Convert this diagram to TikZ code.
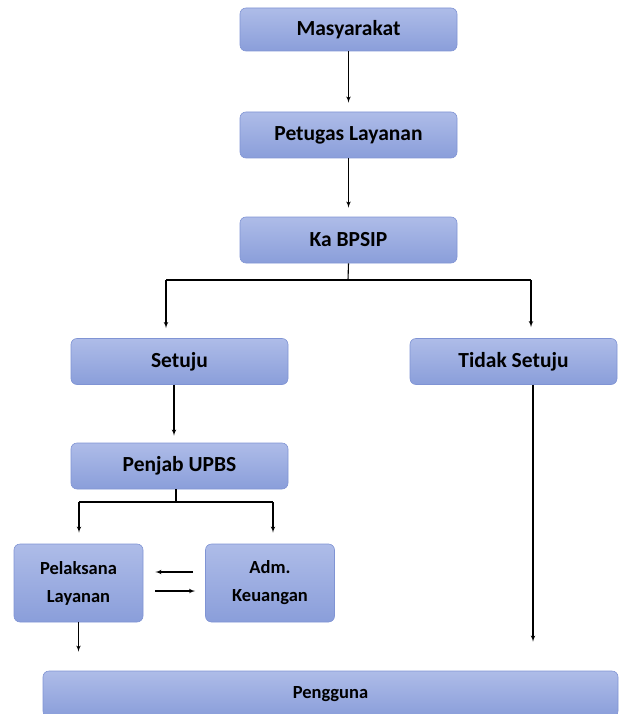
\documentclass[tikz,border=0pt]{standalone}
\usepackage{fontspec}
\setmainfont{Carlito}
\usetikzlibrary{shapes,arrows}
\definecolor{boxtop}{RGB}{174,188,232}
\definecolor{boxbot}{RGB}{138,158,218}
\definecolor{boxline}{RGB}{128,148,212}
\tikzstyle{block} = [rectangle, draw=boxline, line width=0.6pt, top color=boxtop, bottom color=boxbot,
    text centered, rounded corners=6pt, minimum width=217pt, minimum height=46pt, font=\fontsize{21.5}{24}\bfseries]
\tikzstyle{small} = [block, minimum width=129pt, minimum height=78pt, text width=120pt, align=center,
    font=\fontsize{18.5}{28}\bfseries]
\tikzstyle{line} = [draw, line width=1.1pt, -latex']

\begin{document}
\begin{tikzpicture}[node distance = 105pt, auto, x=1pt, y=1pt]
    \useasboundingbox (0,0) rectangle (619,-714);
    % Place nodes
    \node [block, minimum height=43pt] at (348.5,-29.5) (masy) {Masyarakat};
    \node [block, below of=masy, node distance=105.5pt] (petugas) {Petugas Layanan};
    \node [block, below of=petugas] (ka) {Ka BPSIP};
    \node [block] at (179.5,-361.5) (setuju) {Setuju};
    \node [block, right of=setuju, node distance=334pt, minimum width=207pt] (tidak) {Tidak Setuju};
    \node [block, below of=setuju, node distance=104.5pt] (penjab) {Penjab UPBS};
    \node [small] at (78.5,-583) (pelaksana) {Pelaksana\\Layanan};
    \node [small, right of=pelaksana, node distance=191.5pt] (adm) {Adm.\\Keuangan};
    \node [block, minimum width=575pt, minimum height=46pt, font=\fontsize{18.5}{21}\bfseries] at (330.5,-694) (pengguna) {Pengguna};
    % Branch points
    \coordinate (kasplit) at (348,-280);
    \coordinate (kaleft) at (166,-280);
    \coordinate (karight) at (531,-280);
    \coordinate (pjsplit) at (176,-502);
    \coordinate (pjleft) at (79,-502);
    \coordinate (pjright) at (273,-502);
    % Draw edges
    \path [line, shorten >=9pt] (masy) -- (petugas);
    \path [line, shorten >=9pt] (petugas) -- (ka);
    \draw [line width=1.1pt] (ka.south) -- (kasplit);
    \draw [line width=1.1pt] (kaleft) -- (karight);
    \path [line, shorten >=10pt] (kaleft) -- (kaleft |- setuju.north);
    \path [line, shorten >=11pt] (karight) -- (karight |- tidak.north);
    \path [line, shorten >=7pt] ([xshift=-5.5pt]setuju.south) -- ([xshift=-5.5pt]penjab.north);
    \draw [line width=1.1pt] (penjab.south -| pjsplit) -- (pjsplit);
    \draw [line width=1.1pt] (pjleft) -- (pjright);
    \path [line, shorten >=11pt] (pjleft) -- (pjleft |- pelaksana.north);
    \path [line, shorten >=11pt] (pjright) -- (pjright |- adm.north);
    \path [line, shorten <=12pt, shorten >=12pt] ([yshift=11pt]adm.west) -- ([yshift=11pt]pelaksana.east);
    \path [line, shorten <=12pt, shorten >=10pt] ([yshift=-8pt]pelaksana.east) -- ([yshift=-8pt]adm.west);
    \path [line, shorten >=19pt] (pelaksana.south) -- (pelaksana.south |- pengguna.north);
    \path [line, shorten >=29pt] ([xshift=19.5pt]tidak.south) -- ([xshift=19.5pt]tidak.south |- pengguna.north);
\end{tikzpicture}
\end{document}
